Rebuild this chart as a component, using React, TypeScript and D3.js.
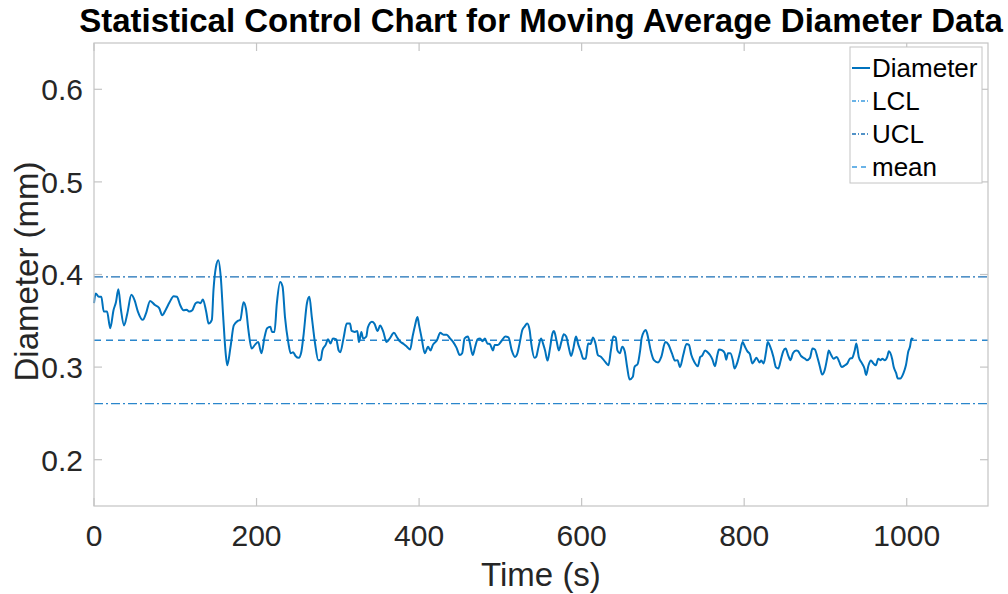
import React, { useEffect, useRef } from 'react';
import * as d3 from 'd3';

// Moving average diameter readings (time in s, diameter in mm)
const timeSec = [
  0, 2, 6, 9, 12, 16, 20, 24, 27, 30,
  33, 37, 41, 46, 50, 54, 60, 64, 69, 75,
  80, 84, 88, 93, 98, 102, 106, 110, 114, 117,
  121, 125, 128, 131, 134, 138, 141, 145, 147, 150,
  153, 156, 159, 162, 164, 168, 172, 177, 180, 184,
  187, 190, 194, 198, 202, 206, 210, 213, 217, 219,
  222, 225, 229, 232, 235, 239, 242, 245, 248, 252,
  255, 258, 262, 265, 268, 272, 276, 279, 281, 285,
  288, 291, 294, 298, 301, 303, 307, 311, 315, 317,
  321, 324, 326, 329, 331, 335, 337, 342, 345, 349,
  352, 356, 360, 364, 369, 373, 376, 381, 385, 389,
  392, 395, 398, 400, 403, 407, 411, 414, 417, 422,
  426, 430, 434, 438, 442, 446, 450, 453, 456, 460,
  462, 466, 469, 472, 475, 478, 481, 484, 487, 491,
  493, 497, 502, 506, 510, 514, 518, 521, 524, 527,
  530, 533, 536, 538, 542, 544, 547, 550, 553, 555,
  558, 561, 564, 566, 569, 572, 575, 578, 581, 584,
  587, 590, 593, 596, 599, 602, 605, 608, 611, 614,
  617, 620, 624, 629, 633, 636, 639, 642, 644, 647,
  650, 653, 656, 659, 663, 665, 669, 672, 674, 679,
  682, 685, 689, 694, 698, 703, 707, 711, 715, 718,
  721, 725, 729, 732, 735, 739, 743, 746, 748, 752,
  755, 758, 761, 764, 767, 769, 773, 776, 778, 780,
  783, 786, 788, 791, 795, 798, 801, 804, 807, 810,
  813, 815, 819, 821, 824, 827, 829, 832, 836, 839,
  842, 845, 848, 851, 854, 857, 860, 864, 866, 870,
  875, 877, 881, 884, 887, 890, 893, 896, 899, 902,
  904, 907, 910, 914, 917, 920, 924, 927, 930, 933,
  936, 938, 941, 945, 948, 950, 953, 956, 959, 962,
  965, 968, 970, 973, 976, 978, 982, 984, 987, 989,
  992, 996, 999, 1002, 1004, 1006, 1008,
];

const diameterMm = [
  0.369, 0.3795, 0.376, 0.376, 0.36, 0.36, 0.342, 0.3615, 0.37, 0.384,
  0.363, 0.345, 0.358, 0.378, 0.372, 0.36, 0.351, 0.358, 0.3715, 0.367,
  0.364, 0.356, 0.3615, 0.37, 0.3766, 0.376, 0.367, 0.3615, 0.362, 0.36,
  0.3615, 0.369, 0.37, 0.369, 0.373, 0.36, 0.347, 0.351, 0.383, 0.408,
  0.4155, 0.397, 0.354, 0.315, 0.302, 0.322, 0.345, 0.35, 0.351, 0.37,
  0.363, 0.34, 0.32, 0.324, 0.327, 0.315, 0.333, 0.342, 0.3435, 0.338,
  0.338, 0.369, 0.392, 0.387, 0.354, 0.327, 0.315, 0.316, 0.312, 0.31,
  0.316, 0.336, 0.369, 0.376, 0.354, 0.3255, 0.3075, 0.308, 0.318, 0.324,
  0.33, 0.3255, 0.331, 0.33, 0.318, 0.316, 0.331, 0.347, 0.347, 0.339,
  0.338, 0.339, 0.327, 0.338, 0.331, 0.333, 0.343, 0.349, 0.347, 0.339,
  0.345, 0.338, 0.327, 0.331, 0.337, 0.332, 0.328, 0.325, 0.322, 0.319,
  0.333, 0.345, 0.354, 0.345, 0.332, 0.315, 0.322, 0.318, 0.324, 0.329,
  0.337, 0.335, 0.335, 0.331, 0.327, 0.321, 0.313, 0.315, 0.331, 0.333,
  0.328, 0.313, 0.322, 0.33, 0.331, 0.328, 0.331, 0.3255, 0.325, 0.318,
  0.324, 0.324, 0.329, 0.333, 0.332, 0.318, 0.311, 0.315, 0.327, 0.34,
  0.344, 0.347, 0.34, 0.3255, 0.31, 0.311, 0.322, 0.331, 0.324, 0.318,
  0.307, 0.32, 0.336, 0.339, 0.329, 0.318, 0.327, 0.3355, 0.333, 0.322,
  0.312, 0.321, 0.333, 0.324, 0.317, 0.309, 0.309, 0.3255, 0.325, 0.332,
  0.3255, 0.313, 0.311, 0.3056, 0.302, 0.318, 0.333, 0.332, 0.318, 0.315,
  0.322, 0.317, 0.3, 0.2866, 0.2895, 0.3, 0.3035, 0.318, 0.332, 0.34,
  0.331, 0.318, 0.3075, 0.305, 0.311, 0.327, 0.324, 0.315, 0.307, 0.3075,
  0.3, 0.313, 0.325, 0.324, 0.313, 0.305, 0.301, 0.311, 0.312, 0.318,
  0.316, 0.313, 0.308, 0.301, 0.313, 0.319, 0.318, 0.315, 0.308, 0.315,
  0.315, 0.3075, 0.2985, 0.3035, 0.3164, 0.327, 0.322, 0.317, 0.314, 0.304,
  0.3075, 0.31, 0.305, 0.307, 0.304, 0.317, 0.327, 0.322, 0.311, 0.3,
  0.2985, 0.3075, 0.317, 0.32, 0.313, 0.3075, 0.315, 0.318, 0.3175, 0.312,
  0.309, 0.3075, 0.31, 0.32, 0.319, 0.311, 0.301, 0.292, 0.2966, 0.309,
  0.318, 0.313, 0.309, 0.311, 0.3056, 0.3, 0.302, 0.304, 0.309, 0.31,
  0.318, 0.3255, 0.311, 0.304, 0.2985, 0.2915, 0.302, 0.307, 0.304, 0.302,
  0.309, 0.3075, 0.309, 0.3075, 0.311, 0.317, 0.309, 0.3, 0.2935, 0.2877,
  0.2877, 0.2935, 0.302, 0.317, 0.322, 0.331, 0.33,
];

// control limits
const meanValue = 0.329;
const lclValue = 0.2605;
const uclValue = 0.3975;

const xTicks = [0, 200, 400, 600, 800, 1000];
const yTicks = [0.2, 0.3, 0.4, 0.5, 0.6];
const legendLabels = ['Diameter', 'LCL', 'UCL', 'mean'];

const App = () => {
  const svgRef = useRef<SVGSVGElement | null>(null);

  useEffect(() => {
    drawChart();
  }, []);

  const drawChart = () => {
    const svg = d3.select(svgRef.current);
    svg.selectAll('*').remove();

    const left = 94;
    const right = 988;
    const top = 43;
    const bottom = 506;
    const font = 'Arial, "Liberation Sans", Helvetica, sans-serif';
    const blue = '#0072BD';
    const axisGray = '#c4c4c4';
    const textColor = '#262626';

    const x = d3.scaleLinear().domain([0, 1100]).range([left, right]);
    const y = d3.scaleLinear().domain([0.15, 0.65]).range([bottom, top]);

    svg.append('rect')
      .attr('width', 1008).attr('height', 594).attr('fill', '#fff');

    // control lines
    const hLine = (val: number, dash: string, color: string) => {
      svg.append('line')
        .attr('x1', left).attr('x2', right)
        .attr('y1', y(val)).attr('y2', y(val))
        .attr('stroke', color)
        .attr('stroke-width', 1.3)
        .attr('stroke-dasharray', dash);
    };
    hLine(uclValue, '9,3,2,3', '#1a6fb5');
    hLine(lclValue, '9,3,2,3', '#2a86cc');
    hLine(meanValue, '7,5', '#2a86cc');

    // diameter series
    const points = timeSec.map((t, i) => [t, diameterMm[i]] as [number, number]);
    const line = d3.line<[number, number]>()
      .x(d => x(d[0]))
      .y(d => y(d[1]))
      .curve(d3.curveMonotoneX);

    svg.append('path')
      .datum(points)
      .attr('d', line)
      .attr('fill', 'none')
      .attr('stroke', blue)
      .attr('stroke-width', 2)
      .attr('stroke-linejoin', 'round');

    // axes box with inward ticks on all sides
    const tickLen = 8;
    const axisG = svg.append('g')
      .attr('stroke', axisGray)
      .attr('stroke-width', 1.2)
      .attr('fill', 'none');
    axisG.append('rect')
      .attr('x', left).attr('y', top)
      .attr('width', right - left).attr('height', bottom - top);

    xTicks.forEach(t => {
      axisG.append('line')
        .attr('x1', x(t)).attr('x2', x(t))
        .attr('y1', bottom).attr('y2', bottom - tickLen);
      axisG.append('line')
        .attr('x1', x(t)).attr('x2', x(t))
        .attr('y1', top).attr('y2', top + tickLen);
    });
    yTicks.forEach(t => {
      axisG.append('line')
        .attr('x1', left).attr('x2', left + tickLen)
        .attr('y1', y(t)).attr('y2', y(t));
      axisG.append('line')
        .attr('x1', right).attr('x2', right - tickLen)
        .attr('y1', y(t)).attr('y2', y(t));
    });

    // tick labels
    svg.append('g')
      .selectAll('text')
      .data(xTicks)
      .enter().append('text')
      .attr('x', d => x(d))
      .attr('y', bottom + 40)
      .attr('text-anchor', 'middle')
      .attr('font-family', font)
      .attr('font-size', 30)
      .attr('fill', textColor)
      .text(d => String(d));

    svg.append('g')
      .selectAll('text')
      .data(yTicks)
      .enter().append('text')
      .attr('x', left - 11)
      .attr('y', d => y(d))
      .attr('dy', '0.36em')
      .attr('text-anchor', 'end')
      .attr('font-family', font)
      .attr('font-size', 30)
      .attr('fill', textColor)
      .text(d => d3.format('.1f')(d));

    // axis labels
    svg.append('text')
      .attr('x', (left + right) / 2)
      .attr('y', 586)
      .attr('text-anchor', 'middle')
      .attr('font-family', font)
      .attr('font-size', 33)
      .attr('fill', textColor)
      .text('Time (s)');

    svg.append('text')
      .attr('transform', `translate(38, ${(top + bottom) / 2 - 3}) rotate(-90)`)
      .attr('text-anchor', 'middle')
      .attr('font-family', font)
      .attr('font-size', 33)
      .attr('fill', textColor)
      .text('Diameter (mm)');

    // title
    svg.append('text')
      .attr('x', 541)
      .attr('y', 32)
      .attr('text-anchor', 'middle')
      .attr('font-family', font)
      .attr('font-weight', 'bold')
      .attr('font-size', 33)
      .attr('fill', '#000')
      .text('Statistical Control Chart for Moving Average Diameter Data');

    // legend
    const lg = svg.append('g').attr('transform', 'translate(850, 47)');
    lg.append('rect')
      .attr('width', 132).attr('height', 136)
      .attr('fill', '#fff')
      .attr('stroke', '#c4c4c4')
      .attr('stroke-width', 1);
    const legendDash = ['', '4,2,1,2', '4,2,1,2', '5,4'];
    const legendColor = [blue, '#3a9ae0', '#1a6fb5', '#3a9ae0'];
    legendLabels.forEach((label, i) => {
      const cy = 21 + i * 33;
      lg.append('line')
        .attr('x1', 2).attr('x2', 20)
        .attr('y1', cy).attr('y2', cy)
        .attr('stroke', legendColor[i])
        .attr('stroke-width', i === 0 ? 2 : 1.3)
        .attr('stroke-dasharray', legendDash[i]);
      lg.append('text')
        .attr('x', 22)
        .attr('y', cy)
        .attr('dy', '0.36em')
        .attr('font-family', font)
        .attr('font-size', 26)
        .attr('fill', '#000')
        .text(label);
    });
  };

  return (
    <svg
      ref={svgRef}
      width={1008}
      height={594}
      style={{ position: 'absolute', left: 0, top: 0 }}
    />
  );
};

export default App;
